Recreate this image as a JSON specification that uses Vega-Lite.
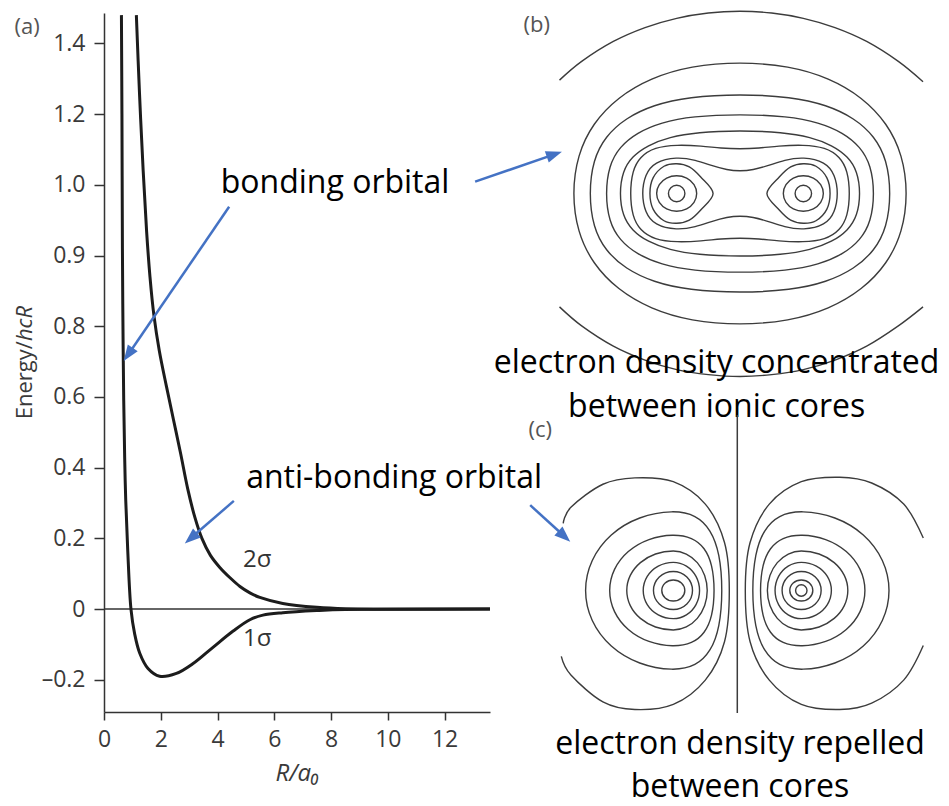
{
  "$schema": "https://vega.github.io/schema/vega-lite/v6.json",
  "width": 386,
  "height": 699,
  "autosize": {"type": "none"},
  "padding": {"left": 104, "top": 13, "right": 459, "bottom": 94},
  "background": "#ffffff",
  "config": {"view": {"stroke": null}, "font": "Open Sans", "axis": {"grid": false}},
  "datasets": {
    "zero": [{"x": 0, "x2": 13.6, "y": 0}],
    "energy": [
      {"orbital": "1σ", "x": 0.614, "y": 1.68}, {"orbital": "1σ", "x": 0.632, "y": 1.40}, {"orbital": "1σ", "x": 0.649, "y": 1.02},
      {"orbital": "1σ", "x": 0.668, "y": 0.80}, {"orbital": "1σ", "x": 0.695, "y": 0.59}, {"orbital": "1σ", "x": 0.728, "y": 0.43},
      {"orbital": "1σ", "x": 0.765, "y": 0.31}, {"orbital": "1σ", "x": 0.836, "y": 0.167}, {"orbital": "1σ", "x": 0.95, "y": 0},
      {"orbital": "1σ", "x": 1.08, "y": -0.07}, {"orbital": "1σ", "x": 1.26, "y": -0.125}, {"orbital": "1σ", "x": 1.55, "y": -0.168},
      {"orbital": "1σ", "x": 1.96, "y": -0.19}, {"orbital": "1σ", "x": 2.55, "y": -0.182}, {"orbital": "1σ", "x": 3.14, "y": -0.154},
      {"orbital": "1σ", "x": 3.84, "y": -0.108}, {"orbital": "1σ", "x": 4.55, "y": -0.062}, {"orbital": "1σ", "x": 5.14, "y": -0.03},
      {"orbital": "1σ", "x": 5.6, "y": -0.017}, {"orbital": "1σ", "x": 6.3, "y": -0.01}, {"orbital": "1σ", "x": 7.5, "y": -0.004},
      {"orbital": "1σ", "x": 8.5, "y": -0.001}, {"orbital": "1σ", "x": 13.6, "y": 0},
      {"orbital": "2σ", "x": 1.14, "y": 1.68}, {"orbital": "2σ", "x": 1.25, "y": 1.46}, {"orbital": "2σ", "x": 1.38, "y": 1.24},
      {"orbital": "2σ", "x": 1.5, "y": 1.07}, {"orbital": "2σ", "x": 1.62, "y": 0.94}, {"orbital": "2σ", "x": 1.76, "y": 0.83},
      {"orbital": "2σ", "x": 1.95, "y": 0.73}, {"orbital": "2σ", "x": 2.2, "y": 0.63}, {"orbital": "2σ", "x": 2.45, "y": 0.535},
      {"orbital": "2σ", "x": 2.7, "y": 0.44}, {"orbital": "2σ", "x": 2.95, "y": 0.34}, {"orbital": "2σ", "x": 3.2, "y": 0.26},
      {"orbital": "2σ", "x": 3.45, "y": 0.2}, {"orbital": "2σ", "x": 3.75, "y": 0.152}, {"orbital": "2σ", "x": 4.08, "y": 0.118},
      {"orbital": "2σ", "x": 4.45, "y": 0.088}, {"orbital": "2σ", "x": 4.79, "y": 0.064}, {"orbital": "2σ", "x": 5.14, "y": 0.046},
      {"orbital": "2σ", "x": 5.49, "y": 0.033}, {"orbital": "2σ", "x": 6.3, "y": 0.016}, {"orbital": "2σ", "x": 7.5, "y": 0.005},
      {"orbital": "2σ", "x": 8.5, "y": 0.001}, {"orbital": "2σ", "x": 13.6, "y": 0}
    ],
    "sigmaLabels": [{"x": 5.4, "y": 0.139, "label": "2σ"}, {"x": 5.4, "y": -0.085, "label": "1σ"}],
    "panelA": [{"x": -2.71, "y": 1.646, "label": "(a)"}],
    "yTitleA": [{"x": -2.797, "y": 0.758, "label": "Energy/"}],
    "yTitleB": [{"x": -2.797, "y": 0.758, "label": "hcR"}],
    "notes": [{"x": 8.14, "y": 1.176, "label": "bonding orbital"}, {"x": 10.22, "y": 0.342, "label": "anti-bonding orbital"}],
    "arrows": [
      {"x": 4.409, "y": 1.138, "x2": 0.854, "y2": 0.72},
      {"x": 13.076, "y": 1.209, "x2": 15.866, "y2": 1.286},
      {"x": 4.575, "y": 0.306, "x2": 3.061, "y2": 0.201},
      {"x": 15.016, "y": 0.294, "x2": 16.219, "y2": 0.206}
    ],
    "tip1": [{"x": 0.695, "y": 0.7016}],
    "tip2": [{"x": 16.134, "y": 1.2937}],
    "tip3": [{"x": 2.847, "y": 0.1859}],
    "tip4": [{"x": 16.427, "y": 0.1904}],
    "bArcs": [
      {"c": "top", "i": 0, "u": -2.85, "v": 1.79}, {"c": "top", "i": 1, "u": -2.5, "v": 2.086}, {"c": "top", "i": 2, "u": -2.0, "v": 2.401},
      {"c": "top", "i": 3, "u": -1.5, "v": 2.62}, {"c": "top", "i": 4, "u": -1.0, "v": 2.766}, {"c": "top", "i": 5, "u": -0.5, "v": 2.85},
      {"c": "top", "i": 6, "u": 0, "v": 2.877}, {"c": "top", "i": 7, "u": 0.5, "v": 2.85}, {"c": "top", "i": 8, "u": 1.0, "v": 2.766},
      {"c": "top", "i": 9, "u": 1.5, "v": 2.62}, {"c": "top", "i": 10, "u": 2.0, "v": 2.401}, {"c": "top", "i": 11, "u": 2.5, "v": 2.086},
      {"c": "top", "i": 12, "u": 2.89, "v": 1.765},
      {"c": "bot", "i": 0, "u": -2.85, "v": -1.79}, {"c": "bot", "i": 1, "u": -2.5, "v": -2.09}, {"c": "bot", "i": 2, "u": -2.0, "v": -2.41},
      {"c": "bot", "i": 3, "u": -1.5, "v": -2.63}, {"c": "bot", "i": 4, "u": -1.0, "v": -2.78}, {"c": "bot", "i": 5, "u": -0.5, "v": -2.86},
      {"c": "bot", "i": 6, "u": 0, "v": -2.89}, {"c": "bot", "i": 7, "u": 0.5, "v": -2.86}, {"c": "bot", "i": 8, "u": 1.0, "v": -2.78},
      {"c": "bot", "i": 9, "u": 1.5, "v": -2.63}, {"c": "bot", "i": 10, "u": 2.0, "v": -2.41}, {"c": "bot", "i": 11, "u": 2.5, "v": -2.09},
      {"c": "bot", "i": 12, "u": 2.89, "v": -1.79}
    ],
    "bSmooth": [
      {"c": "C2", "i": 0, "u": 2.65, "v": 0}, {"c": "C2", "i": 1, "u": 2.568, "v": 0.609}, {"c": "C2", "i": 2, "u": 2.325, "v": 1.108},
      {"c": "C2", "i": 3, "u": 1.934, "v": 1.518}, {"c": "C2", "i": 4, "u": 1.411, "v": 1.825}, {"c": "C2", "i": 5, "u": 0.775, "v": 2.016},
      {"c": "C2", "i": 6, "u": 0, "v": 2.08}, {"c": "C2", "i": 7, "u": -0.775, "v": 2.016}, {"c": "C2", "i": 8, "u": -1.411, "v": 1.825},
      {"c": "C2", "i": 9, "u": -1.934, "v": 1.518}, {"c": "C2", "i": 10, "u": -2.325, "v": 1.108}, {"c": "C2", "i": 11, "u": -2.568, "v": 0.609},
      {"c": "C2", "i": 12, "u": -2.65, "v": 0}, {"c": "C2", "i": 13, "u": -2.568, "v": -0.609}, {"c": "C2", "i": 14, "u": -2.325, "v": -1.108},
      {"c": "C2", "i": 15, "u": -1.934, "v": -1.518}, {"c": "C2", "i": 16, "u": -1.411, "v": -1.825}, {"c": "C2", "i": 17, "u": -0.775, "v": -2.016},
      {"c": "C2", "i": 18, "u": 0, "v": -2.08}, {"c": "C2", "i": 19, "u": 0.775, "v": -2.016}, {"c": "C2", "i": 20, "u": 1.411, "v": -1.825},
      {"c": "C2", "i": 21, "u": 1.934, "v": -1.518}, {"c": "C2", "i": 22, "u": 2.325, "v": -1.108}, {"c": "C2", "i": 23, "u": 2.568, "v": -0.609},

      {"c": "C3", "i": 0, "u": 2.385, "v": 0}, {"c": "C3", "i": 1, "u": 2.32, "v": 0.532}, {"c": "C3", "i": 2, "u": 2.126, "v": 0.902},
      {"c": "C3", "i": 3, "u": 1.808, "v": 1.19}, {"c": "C3", "i": 4, "u": 1.37, "v": 1.399}, {"c": "C3", "i": 5, "u": 0.809, "v": 1.527},
      {"c": "C3", "i": 6, "u": 0, "v": 1.57}, {"c": "C3", "i": 7, "u": -0.809, "v": 1.527}, {"c": "C3", "i": 8, "u": -1.37, "v": 1.399},
      {"c": "C3", "i": 9, "u": -1.808, "v": 1.19}, {"c": "C3", "i": 10, "u": -2.126, "v": 0.902}, {"c": "C3", "i": 11, "u": -2.32, "v": 0.532},
      {"c": "C3", "i": 12, "u": -2.385, "v": 0}, {"c": "C3", "i": 13, "u": -2.32, "v": -0.532}, {"c": "C3", "i": 14, "u": -2.126, "v": -0.902},
      {"c": "C3", "i": 15, "u": -1.808, "v": -1.19}, {"c": "C3", "i": 16, "u": -1.37, "v": -1.399}, {"c": "C3", "i": 17, "u": -0.809, "v": -1.527},
      {"c": "C3", "i": 18, "u": 0, "v": -1.57}, {"c": "C3", "i": 19, "u": 0.809, "v": -1.527}, {"c": "C3", "i": 20, "u": 1.37, "v": -1.399},
      {"c": "C3", "i": 21, "u": 1.808, "v": -1.19}, {"c": "C3", "i": 22, "u": 2.126, "v": -0.902}, {"c": "C3", "i": 23, "u": 2.32, "v": -0.532},

      {"c": "C4", "i": 0, "u": 2.125, "v": 0}, {"c": "C4", "i": 1, "u": 2.069, "v": 0.443}, {"c": "C4", "i": 2, "u": 1.903, "v": 0.735},
      {"c": "C4", "i": 3, "u": 1.628, "v": 0.96}, {"c": "C4", "i": 4, "u": 1.247, "v": 1.122}, {"c": "C4", "i": 5, "u": 0.751, "v": 1.22},
      {"c": "C4", "i": 6, "u": 0, "v": 1.253}, {"c": "C4", "i": 7, "u": -0.751, "v": 1.22}, {"c": "C4", "i": 8, "u": -1.247, "v": 1.122},
      {"c": "C4", "i": 9, "u": -1.628, "v": 0.96}, {"c": "C4", "i": 10, "u": -1.903, "v": 0.735}, {"c": "C4", "i": 11, "u": -2.069, "v": 0.443},
      {"c": "C4", "i": 12, "u": -2.125, "v": 0}, {"c": "C4", "i": 13, "u": -2.069, "v": -0.443}, {"c": "C4", "i": 14, "u": -1.903, "v": -0.735},
      {"c": "C4", "i": 15, "u": -1.628, "v": -0.96}, {"c": "C4", "i": 16, "u": -1.247, "v": -1.122}, {"c": "C4", "i": 17, "u": -0.751, "v": -1.22},
      {"c": "C4", "i": 18, "u": 0, "v": -1.253}, {"c": "C4", "i": 19, "u": 0.751, "v": -1.22}, {"c": "C4", "i": 20, "u": 1.247, "v": -1.122},
      {"c": "C4", "i": 21, "u": 1.628, "v": -0.96}, {"c": "C4", "i": 22, "u": 1.903, "v": -0.735}, {"c": "C4", "i": 23, "u": 2.069, "v": -0.443},

      {"c": "C5", "i": 0, "u": 1.904, "v": 0}, {"c": "C5", "i": 1, "u": 1.854, "v": 0.352}, {"c": "C5", "i": 2, "u": 1.705, "v": 0.584},
      {"c": "C5", "i": 3, "u": 1.458, "v": 0.762}, {"c": "C5", "i": 4, "u": 1.117, "v": 0.891}, {"c": "C5", "i": 5, "u": 0.673, "v": 0.969},
      {"c": "C5", "i": 6, "u": 0, "v": 0.995}, {"c": "C5", "i": 7, "u": -0.673, "v": 0.969}, {"c": "C5", "i": 8, "u": -1.117, "v": 0.891},
      {"c": "C5", "i": 9, "u": -1.458, "v": 0.762}, {"c": "C5", "i": 10, "u": -1.705, "v": 0.584}, {"c": "C5", "i": 11, "u": -1.854, "v": 0.352},
      {"c": "C5", "i": 12, "u": -1.904, "v": 0}, {"c": "C5", "i": 13, "u": -1.854, "v": -0.352}, {"c": "C5", "i": 14, "u": -1.705, "v": -0.584},
      {"c": "C5", "i": 15, "u": -1.458, "v": -0.762}, {"c": "C5", "i": 16, "u": -1.117, "v": -0.891}, {"c": "C5", "i": 17, "u": -0.673, "v": -0.969},
      {"c": "C5", "i": 18, "u": 0, "v": -0.995}, {"c": "C5", "i": 19, "u": 0.673, "v": -0.969}, {"c": "C5", "i": 20, "u": 1.117, "v": -0.891},
      {"c": "C5", "i": 21, "u": 1.458, "v": -0.762}, {"c": "C5", "i": 22, "u": 1.705, "v": -0.584}, {"c": "C5", "i": 23, "u": 1.854, "v": -0.352},

      {"c": "C6", "i": 0, "u": 1.738, "v": 0}, {"c": "C6", "i": 1, "u": 1.7, "v": 0.36}, {"c": "C6", "i": 2, "u": 1.58, "v": 0.58},
      {"c": "C6", "i": 3, "u": 1.35, "v": 0.73}, {"c": "C6", "i": 4, "u": 1.0, "v": 0.77}, {"c": "C6", "i": 5, "u": 0.6, "v": 0.75},
      {"c": "C6", "i": 6, "u": 0.3, "v": 0.715}, {"c": "C6", "i": 7, "u": 0, "v": 0.703}, {"c": "C6", "i": 8, "u": -0.3, "v": 0.715},
      {"c": "C6", "i": 9, "u": -0.6, "v": 0.75}, {"c": "C6", "i": 10, "u": -1.0, "v": 0.77}, {"c": "C6", "i": 11, "u": -1.35, "v": 0.73},
      {"c": "C6", "i": 12, "u": -1.58, "v": 0.58}, {"c": "C6", "i": 13, "u": -1.7, "v": 0.36}, {"c": "C6", "i": 14, "u": -1.738, "v": 0},
      {"c": "C6", "i": 15, "u": -1.7, "v": -0.36}, {"c": "C6", "i": 16, "u": -1.58, "v": -0.58}, {"c": "C6", "i": 17, "u": -1.35, "v": -0.73},
      {"c": "C6", "i": 18, "u": -1.0, "v": -0.77}, {"c": "C6", "i": 19, "u": -0.6, "v": -0.75}, {"c": "C6", "i": 20, "u": -0.3, "v": -0.715},
      {"c": "C6", "i": 21, "u": 0, "v": -0.703}, {"c": "C6", "i": 22, "u": 0.3, "v": -0.715}, {"c": "C6", "i": 23, "u": 0.6, "v": -0.75},
      {"c": "C6", "i": 24, "u": 1.0, "v": -0.77}, {"c": "C6", "i": 25, "u": 1.35, "v": -0.73}, {"c": "C6", "i": 26, "u": 1.58, "v": -0.58},
      {"c": "C6", "i": 27, "u": 1.7, "v": -0.36},

      {"c": "C7", "i": 0, "u": 1.553, "v": 0}, {"c": "C7", "i": 1, "u": 1.5, "v": 0.3}, {"c": "C7", "i": 2, "u": 1.35, "v": 0.5},
      {"c": "C7", "i": 3, "u": 1.0, "v": 0.58}, {"c": "C7", "i": 4, "u": 0.7, "v": 0.53}, {"c": "C7", "i": 5, "u": 0.45, "v": 0.44},
      {"c": "C7", "i": 6, "u": 0.2, "v": 0.37}, {"c": "C7", "i": 7, "u": 0, "v": 0.355}, {"c": "C7", "i": 8, "u": -0.2, "v": 0.37},
      {"c": "C7", "i": 9, "u": -0.45, "v": 0.44}, {"c": "C7", "i": 10, "u": -0.7, "v": 0.53}, {"c": "C7", "i": 11, "u": -1.0, "v": 0.58},
      {"c": "C7", "i": 12, "u": -1.35, "v": 0.5}, {"c": "C7", "i": 13, "u": -1.5, "v": 0.3}, {"c": "C7", "i": 14, "u": -1.553, "v": 0},
      {"c": "C7", "i": 15, "u": -1.5, "v": -0.3}, {"c": "C7", "i": 16, "u": -1.35, "v": -0.5}, {"c": "C7", "i": 17, "u": -1.0, "v": -0.58},
      {"c": "C7", "i": 18, "u": -0.7, "v": -0.53}, {"c": "C7", "i": 19, "u": -0.45, "v": -0.44}, {"c": "C7", "i": 20, "u": -0.2, "v": -0.37},
      {"c": "C7", "i": 21, "u": 0, "v": -0.355}, {"c": "C7", "i": 22, "u": 0.2, "v": -0.37}, {"c": "C7", "i": 23, "u": 0.45, "v": -0.44},
      {"c": "C7", "i": 24, "u": 0.7, "v": -0.53}, {"c": "C7", "i": 25, "u": 1.0, "v": -0.58}, {"c": "C7", "i": 26, "u": 1.35, "v": -0.5},
      {"c": "C7", "i": 27, "u": 1.5, "v": -0.3}
    ],
    "bRound": [
      {"c": "TL", "i": 0, "u": -1.422, "v": 0}, {"c": "TL", "i": 1, "u": -1.37, "v": 0.25}, {"c": "TL", "i": 2, "u": -1.2, "v": 0.43},
      {"c": "TL", "i": 3, "u": -1.0, "v": 0.47}, {"c": "TL", "i": 4, "u": -0.8, "v": 0.42}, {"c": "TL", "i": 5, "u": -0.62, "v": 0.26},
      {"c": "TL", "i": 6, "u": -0.425, "v": 0}, {"c": "TL", "i": 7, "u": -0.62, "v": -0.26}, {"c": "TL", "i": 8, "u": -0.8, "v": -0.42},
      {"c": "TL", "i": 9, "u": -1.0, "v": -0.47}, {"c": "TL", "i": 10, "u": -1.2, "v": -0.43}, {"c": "TL", "i": 11, "u": -1.37, "v": -0.25},
      {"c": "TR", "i": 0, "u": 1.422, "v": 0}, {"c": "TR", "i": 1, "u": 1.37, "v": 0.25}, {"c": "TR", "i": 2, "u": 1.2, "v": 0.43},
      {"c": "TR", "i": 3, "u": 1.0, "v": 0.47}, {"c": "TR", "i": 4, "u": 0.8, "v": 0.42}, {"c": "TR", "i": 5, "u": 0.62, "v": 0.26},
      {"c": "TR", "i": 6, "u": 0.425, "v": 0}, {"c": "TR", "i": 7, "u": 0.62, "v": -0.26}, {"c": "TR", "i": 8, "u": 0.8, "v": -0.42},
      {"c": "TR", "i": 9, "u": 1.0, "v": -0.47}, {"c": "TR", "i": 10, "u": 1.2, "v": -0.43}, {"c": "TR", "i": 11, "u": 1.37, "v": -0.25},
      {"c": "OL", "i": 0, "u": -0.684, "v": 0}, {"c": "OL", "i": 1, "u": -0.726, "v": 0.14}, {"c": "OL", "i": 2, "u": -0.842, "v": 0.242},
      {"c": "OL", "i": 3, "u": -1.0, "v": 0.28}, {"c": "OL", "i": 4, "u": -1.158, "v": 0.242}, {"c": "OL", "i": 5, "u": -1.274, "v": 0.14},
      {"c": "OL", "i": 6, "u": -1.316, "v": 0}, {"c": "OL", "i": 7, "u": -1.274, "v": -0.14}, {"c": "OL", "i": 8, "u": -1.158, "v": -0.242},
      {"c": "OL", "i": 9, "u": -1.0, "v": -0.28}, {"c": "OL", "i": 10, "u": -0.842, "v": -0.242}, {"c": "OL", "i": 11, "u": -0.726, "v": -0.14},
      {"c": "OR", "i": 0, "u": 1.316, "v": 0}, {"c": "OR", "i": 1, "u": 1.274, "v": 0.14}, {"c": "OR", "i": 2, "u": 1.158, "v": 0.242},
      {"c": "OR", "i": 3, "u": 1.0, "v": 0.28}, {"c": "OR", "i": 4, "u": 0.842, "v": 0.242}, {"c": "OR", "i": 5, "u": 0.726, "v": 0.14},
      {"c": "OR", "i": 6, "u": 0.684, "v": 0}, {"c": "OR", "i": 7, "u": 0.726, "v": -0.14}, {"c": "OR", "i": 8, "u": 0.842, "v": -0.242},
      {"c": "OR", "i": 9, "u": 1.0, "v": -0.28}, {"c": "OR", "i": 10, "u": 1.158, "v": -0.242}, {"c": "OR", "i": 11, "u": 1.274, "v": -0.14},
      {"c": "NL", "i": 0, "u": -0.87, "v": 0}, {"c": "NL", "i": 1, "u": -0.908, "v": 0.092}, {"c": "NL", "i": 2, "u": -1.0, "v": 0.13},
      {"c": "NL", "i": 3, "u": -1.092, "v": 0.092}, {"c": "NL", "i": 4, "u": -1.13, "v": 0}, {"c": "NL", "i": 5, "u": -1.092, "v": -0.092},
      {"c": "NL", "i": 6, "u": -1.0, "v": -0.13}, {"c": "NL", "i": 7, "u": -0.908, "v": -0.092},
      {"c": "NR", "i": 0, "u": 1.13, "v": 0}, {"c": "NR", "i": 1, "u": 1.092, "v": 0.092}, {"c": "NR", "i": 2, "u": 1.0, "v": 0.13},
      {"c": "NR", "i": 3, "u": 0.908, "v": 0.092}, {"c": "NR", "i": 4, "u": 0.87, "v": 0}, {"c": "NR", "i": 5, "u": 0.908, "v": -0.092},
      {"c": "NR", "i": 6, "u": 1.0, "v": -0.13}, {"c": "NR", "i": 7, "u": 1.092, "v": -0.092}
    ],
    "bText": [{"u": -0.37, "v": -2.84, "label": "electron density concentrated"}, {"u": -0.368, "v": -3.526, "label": "between ionic cores"}],
    "bTag": [{"u": -3.21, "v": 2.66, "label": "(b)"}],
    "cRound": [
      {"c": "K1R", "i": 0, "u": 1.089, "v": 0}, {"c": "K1R", "i": 1, "u": 1.063, "v": 0.063}, {"c": "K1R", "i": 2, "u": 1.0, "v": 0.089},
      {"c": "K1R", "i": 3, "u": 0.937, "v": 0.063}, {"c": "K1R", "i": 4, "u": 0.911, "v": 0}, {"c": "K1R", "i": 5, "u": 0.937, "v": -0.063},
      {"c": "K1R", "i": 6, "u": 1.0, "v": -0.089}, {"c": "K1R", "i": 7, "u": 1.063, "v": -0.063},

      {"c": "K2R", "i": 0, "u": 1.18, "v": 0}, {"c": "K2R", "i": 1, "u": 1.127, "v": 0.116}, {"c": "K2R", "i": 2, "u": 1.0, "v": 0.164},
      {"c": "K2R", "i": 3, "u": 0.873, "v": 0.116}, {"c": "K2R", "i": 4, "u": 0.82, "v": 0}, {"c": "K2R", "i": 5, "u": 0.873, "v": -0.116},
      {"c": "K2R", "i": 6, "u": 1.0, "v": -0.164}, {"c": "K2R", "i": 7, "u": 1.127, "v": -0.116},
      {"c": "K2L", "i": 0, "u": -1.18, "v": 0}, {"c": "K2L", "i": 1, "u": -1.127, "v": 0.116}, {"c": "K2L", "i": 2, "u": -1.0, "v": 0.164},
      {"c": "K2L", "i": 3, "u": -0.873, "v": 0.116}, {"c": "K2L", "i": 4, "u": -0.82, "v": 0}, {"c": "K2L", "i": 5, "u": -0.873, "v": -0.116},
      {"c": "K2L", "i": 6, "u": -1.0, "v": -0.164}, {"c": "K2L", "i": 7, "u": -1.127, "v": -0.116},

      {"c": "K3R", "i": 0, "u": 1.31, "v": 0}, {"c": "K3R", "i": 1, "u": 1.219, "v": 0.21}, {"c": "K3R", "i": 2, "u": 1.0, "v": 0.297},
      {"c": "K3R", "i": 3, "u": 0.788, "v": 0.21}, {"c": "K3R", "i": 4, "u": 0.7, "v": 0}, {"c": "K3R", "i": 5, "u": 0.788, "v": -0.21},
      {"c": "K3R", "i": 6, "u": 1.0, "v": -0.297}, {"c": "K3R", "i": 7, "u": 1.219, "v": -0.21},
      {"c": "K3L", "i": 0, "u": -1.31, "v": 0}, {"c": "K3L", "i": 1, "u": -1.219, "v": 0.21}, {"c": "K3L", "i": 2, "u": -1.0, "v": 0.297},
      {"c": "K3L", "i": 3, "u": -0.788, "v": 0.21}, {"c": "K3L", "i": 4, "u": -0.7, "v": 0}, {"c": "K3L", "i": 5, "u": -0.788, "v": -0.21},
      {"c": "K3L", "i": 6, "u": -1.0, "v": -0.297}, {"c": "K3L", "i": 7, "u": -1.219, "v": -0.21},

      {"c": "K4R", "i": 0, "u": 1.47, "v": 0}, {"c": "K4R", "i": 1, "u": 1.407, "v": 0.22}, {"c": "K4R", "i": 2, "u": 1.235, "v": 0.381},
      {"c": "K4R", "i": 3, "u": 1.0, "v": 0.44}, {"c": "K4R", "i": 4, "u": 0.795, "v": 0.381}, {"c": "K4R", "i": 5, "u": 0.645, "v": 0.22},
      {"c": "K4R", "i": 6, "u": 0.59, "v": 0}, {"c": "K4R", "i": 7, "u": 0.645, "v": -0.22}, {"c": "K4R", "i": 8, "u": 0.795, "v": -0.381},
      {"c": "K4R", "i": 9, "u": 1.0, "v": -0.44}, {"c": "K4R", "i": 10, "u": 1.235, "v": -0.381}, {"c": "K4R", "i": 11, "u": 1.407, "v": -0.22},
      {"c": "K4L", "i": 0, "u": -1.47, "v": 0}, {"c": "K4L", "i": 1, "u": -1.407, "v": 0.22}, {"c": "K4L", "i": 2, "u": -1.235, "v": 0.381},
      {"c": "K4L", "i": 3, "u": -1.0, "v": 0.44}, {"c": "K4L", "i": 4, "u": -0.795, "v": 0.381}, {"c": "K4L", "i": 5, "u": -0.645, "v": 0.22},
      {"c": "K4L", "i": 6, "u": -0.59, "v": 0}, {"c": "K4L", "i": 7, "u": -0.645, "v": -0.22}, {"c": "K4L", "i": 8, "u": -0.795, "v": -0.381},
      {"c": "K4L", "i": 9, "u": -1.0, "v": -0.44}, {"c": "K4L", "i": 10, "u": -1.235, "v": -0.381}, {"c": "K4L", "i": 11, "u": -1.407, "v": -0.22},

      {"c": "K5R", "i": 0, "u": 1.727, "v": 0}, {"c": "K5R", "i": 1, "u": 1.672, "v": 0.236}, {"c": "K5R", "i": 2, "u": 1.514, "v": 0.436},
      {"c": "K5R", "i": 3, "u": 1.278, "v": 0.57}, {"c": "K5R", "i": 4, "u": 1.0, "v": 0.617}, {"c": "K5R", "i": 5, "u": 0.797, "v": 0.57},
      {"c": "K5R", "i": 6, "u": 0.625, "v": 0.436}, {"c": "K5R", "i": 7, "u": 0.51, "v": 0.236}, {"c": "K5R", "i": 8, "u": 0.47, "v": 0},
      {"c": "K5R", "i": 9, "u": 0.51, "v": -0.236}, {"c": "K5R", "i": 10, "u": 0.625, "v": -0.436}, {"c": "K5R", "i": 11, "u": 0.797, "v": -0.57},
      {"c": "K5R", "i": 12, "u": 1.0, "v": -0.617}, {"c": "K5R", "i": 13, "u": 1.278, "v": -0.57}, {"c": "K5R", "i": 14, "u": 1.514, "v": -0.436},
      {"c": "K5R", "i": 15, "u": 1.672, "v": -0.236},
      {"c": "K5L", "i": 0, "u": -1.727, "v": 0}, {"c": "K5L", "i": 1, "u": -1.672, "v": 0.236}, {"c": "K5L", "i": 2, "u": -1.514, "v": 0.436},
      {"c": "K5L", "i": 3, "u": -1.278, "v": 0.57}, {"c": "K5L", "i": 4, "u": -1.0, "v": 0.617}, {"c": "K5L", "i": 5, "u": -0.797, "v": 0.57},
      {"c": "K5L", "i": 6, "u": -0.625, "v": 0.436}, {"c": "K5L", "i": 7, "u": -0.51, "v": 0.236}, {"c": "K5L", "i": 8, "u": -0.47, "v": 0},
      {"c": "K5L", "i": 9, "u": -0.51, "v": -0.236}, {"c": "K5L", "i": 10, "u": -0.625, "v": -0.436}, {"c": "K5L", "i": 11, "u": -0.797, "v": -0.57},
      {"c": "K5L", "i": 12, "u": -1.0, "v": -0.617}, {"c": "K5L", "i": 13, "u": -1.278, "v": -0.57}, {"c": "K5L", "i": 14, "u": -1.514, "v": -0.436},
      {"c": "K5L", "i": 15, "u": -1.672, "v": -0.236}
    ],
    "cSmooth": [
      {"c": "K6R", "i": 0, "u": 2.02, "v": 0}, {"c": "K6R", "i": 1, "u": 1.942, "v": 0.338}, {"c": "K6R", "i": 2, "u": 1.721, "v": 0.624},
      {"c": "K6R", "i": 3, "u": 1.39, "v": 0.816}, {"c": "K6R", "i": 4, "u": 1.0, "v": 0.883}, {"c": "K6R", "i": 5, "u": 0.699, "v": 0.829},
      {"c": "K6R", "i": 6, "u": 0.507, "v": 0.669}, {"c": "K6R", "i": 7, "u": 0.39, "v": 0.41}, {"c": "K6R", "i": 8, "u": 0.35, "v": 0},
      {"c": "K6R", "i": 9, "u": 0.39, "v": -0.41}, {"c": "K6R", "i": 10, "u": 0.507, "v": -0.669}, {"c": "K6R", "i": 11, "u": 0.699, "v": -0.829},
      {"c": "K6R", "i": 12, "u": 1.0, "v": -0.883}, {"c": "K6R", "i": 13, "u": 1.39, "v": -0.816}, {"c": "K6R", "i": 14, "u": 1.721, "v": -0.624},
      {"c": "K6R", "i": 15, "u": 1.942, "v": -0.338},
      {"c": "K6L", "i": 0, "u": -2.02, "v": 0}, {"c": "K6L", "i": 1, "u": -1.942, "v": 0.338}, {"c": "K6L", "i": 2, "u": -1.721, "v": 0.624},
      {"c": "K6L", "i": 3, "u": -1.39, "v": 0.816}, {"c": "K6L", "i": 4, "u": -1.0, "v": 0.883}, {"c": "K6L", "i": 5, "u": -0.699, "v": 0.829},
      {"c": "K6L", "i": 6, "u": -0.507, "v": 0.669}, {"c": "K6L", "i": 7, "u": -0.39, "v": 0.41}, {"c": "K6L", "i": 8, "u": -0.35, "v": 0},
      {"c": "K6L", "i": 9, "u": -0.39, "v": -0.41}, {"c": "K6L", "i": 10, "u": -0.507, "v": -0.669}, {"c": "K6L", "i": 11, "u": -0.699, "v": -0.829},
      {"c": "K6L", "i": 12, "u": -1.0, "v": -0.883}, {"c": "K6L", "i": 13, "u": -1.39, "v": -0.816}, {"c": "K6L", "i": 14, "u": -1.721, "v": -0.624},
      {"c": "K6L", "i": 15, "u": -1.942, "v": -0.338},

      {"c": "K7R", "i": 0, "u": 2.406, "v": 0}, {"c": "K7R", "i": 1, "u": 2.299, "v": 0.481}, {"c": "K7R", "i": 2, "u": 1.994, "v": 0.89},
      {"c": "K7R", "i": 3, "u": 1.538, "v": 1.162}, {"c": "K7R", "i": 4, "u": 1.0, "v": 1.258}, {"c": "K7R", "i": 5, "u": 0.641, "v": 1.181},
      {"c": "K7R", "i": 6, "u": 0.414, "v": 0.953}, {"c": "K7R", "i": 7, "u": 0.274, "v": 0.583}, {"c": "K7R", "i": 8, "u": 0.227, "v": 0},
      {"c": "K7R", "i": 9, "u": 0.274, "v": -0.583}, {"c": "K7R", "i": 10, "u": 0.414, "v": -0.953}, {"c": "K7R", "i": 11, "u": 0.641, "v": -1.181},
      {"c": "K7R", "i": 12, "u": 1.0, "v": -1.258}, {"c": "K7R", "i": 13, "u": 1.538, "v": -1.162}, {"c": "K7R", "i": 14, "u": 1.994, "v": -0.89},
      {"c": "K7R", "i": 15, "u": 2.299, "v": -0.481},
      {"c": "K7L", "i": 0, "u": -2.406, "v": 0}, {"c": "K7L", "i": 1, "u": -2.299, "v": 0.481}, {"c": "K7L", "i": 2, "u": -1.994, "v": 0.89},
      {"c": "K7L", "i": 3, "u": -1.538, "v": 1.162}, {"c": "K7L", "i": 4, "u": -1.0, "v": 1.258}, {"c": "K7L", "i": 5, "u": -0.641, "v": 1.181},
      {"c": "K7L", "i": 6, "u": -0.414, "v": 0.953}, {"c": "K7L", "i": 7, "u": -0.274, "v": 0.583}, {"c": "K7L", "i": 8, "u": -0.227, "v": 0},
      {"c": "K7L", "i": 9, "u": -0.274, "v": -0.583}, {"c": "K7L", "i": 10, "u": -0.414, "v": -0.953}, {"c": "K7L", "i": 11, "u": -0.641, "v": -1.181},
      {"c": "K7L", "i": 12, "u": -1.0, "v": -1.258}, {"c": "K7L", "i": 13, "u": -1.538, "v": -1.162}, {"c": "K7L", "i": 14, "u": -1.994, "v": -0.89},
      {"c": "K7L", "i": 15, "u": -2.299, "v": -0.481}
    ],
    "cArcs": [
      {"c": "K8R", "i": 0, "u": 2.906, "v": 0.82}, {"c": "K8R", "i": 1, "u": 2.6, "v": 1.35}, {"c": "K8R", "i": 2, "u": 2.1, "v": 1.68},
      {"c": "K8R", "i": 3, "u": 1.6, "v": 1.77}, {"c": "K8R", "i": 4, "u": 1.0, "v": 1.7}, {"c": "K8R", "i": 5, "u": 0.5, "v": 1.35},
      {"c": "K8R", "i": 6, "u": 0.2, "v": 0.75}, {"c": "K8R", "i": 7, "u": 0.125, "v": 0}, {"c": "K8R", "i": 8, "u": 0.2, "v": -0.8},
      {"c": "K8R", "i": 9, "u": 0.5, "v": -1.4}, {"c": "K8R", "i": 10, "u": 1.0, "v": -1.78}, {"c": "K8R", "i": 11, "u": 1.6, "v": -1.86},
      {"c": "K8R", "i": 12, "u": 2.1, "v": -1.76}, {"c": "K8R", "i": 13, "u": 2.6, "v": -1.4}, {"c": "K8R", "i": 14, "u": 2.906, "v": -0.86},
      {"c": "K8L", "i": 0, "u": -2.72, "v": 1.05}, {"c": "K8L", "i": 1, "u": -2.6, "v": 1.3}, {"c": "K8L", "i": 2, "u": -2.1, "v": 1.66},
      {"c": "K8L", "i": 3, "u": -1.6, "v": 1.76}, {"c": "K8L", "i": 4, "u": -1.0, "v": 1.7}, {"c": "K8L", "i": 5, "u": -0.5, "v": 1.35},
      {"c": "K8L", "i": 6, "u": -0.2, "v": 0.75}, {"c": "K8L", "i": 7, "u": -0.125, "v": 0}, {"c": "K8L", "i": 8, "u": -0.2, "v": -0.8},
      {"c": "K8L", "i": 9, "u": -0.5, "v": -1.4}, {"c": "K8L", "i": 10, "u": -1.0, "v": -1.78}, {"c": "K8L", "i": 11, "u": -1.6, "v": -1.86},
      {"c": "K8L", "i": 12, "u": -2.1, "v": -1.74}, {"c": "K8L", "i": 13, "u": -2.6, "v": -1.32}, {"c": "K8L", "i": 14, "u": -2.75, "v": -1.03}
    ],
    "node": [{"u": 0, "v": -1.914, "v2": 2.742}],
    "cText": [{"u": 0.042, "v": -2.555, "label": "electron density repelled"}, {"u": 0.042, "v": -3.227, "label": "between cores"}],
    "cTag": [{"u": -3.08, "v": 2.51, "label": "(c)"}]
  },
  "layer": [
    {
      "layer": [
        {
          "data": {"name": "zero"},
          "mark": {"type": "rule", "color": "#333333", "strokeWidth": 1.5},
          "encoding": {
            "x": {"field": "x", "type": "quantitative",
              "scale": {"domain": [0, 13.6], "nice": false, "zero": false},
              "axis": {"values": [0, 2, 4, 6, 8, 10, 12], "title": "R/a₀", "tickSize": 8, "tickWidth": 1.5, "tickColor": "#333333",
                "domainColor": "#333333", "domainWidth": 1.5, "labelFont": "Open Sans", "labelFontSize": 23, "labelColor": "#3a3a3a",
                "labelPadding": 8, "titleFont": "Open Sans", "titleFontSize": 24, "titleFontStyle": "italic", "titleFontWeight": "normal",
                "titleColor": "#3a3a3a", "titlePadding": 10, "labelFlush": false}},
            "x2": {"field": "x2"},
            "y": {"field": "y", "type": "quantitative",
              "scale": {"domain": [-0.291, 1.686], "nice": false, "zero": false},
              "axis": {"values": [-0.2, 0, 0.2, 0.4, 0.6, 0.8, 1.0, 1.2, 1.4, 1.6], "title": null, "tickSize": 10, "tickWidth": 1.5,
                "tickColor": "#333333", "domainColor": "#333333", "domainWidth": 1.5, "labelFont": "Open Sans", "labelFontSize": 23,
                "labelColor": "#3a3a3a", "labelPadding": 9, "labelFlush": false,
                "labelExpr": "datum.value > 1.5 ? '1.4' : datum.value > 1.3 ? '1.2' : datum.value > 1.1 ? '1.0' : datum.value > 0.9 ? '0.9' : datum.value < -0.1 ? '–0.2' : abs(datum.value) < 0.01 ? '0' : format(datum.value, '.1f')"}}
          }
        },
        {
          "data": {"name": "energy"},
          "mark": {"type": "line", "interpolate": "catmull-rom", "strokeWidth": 3, "color": "#1c1c1c"},
          "encoding": {
            "x": {"field": "x", "type": "quantitative"},
            "y": {"field": "y", "type": "quantitative"},
            "detail": {"field": "orbital"}
          }
        },
        {
          "data": {"name": "yTitleA"},
          "mark": {"type": "text", "font": "Open Sans", "fontSize": 22, "color": "#3a3a3a", "angle": 270, "align": "right", "baseline": "middle"},
          "encoding": {"x": {"field": "x", "type": "quantitative"}, "y": {"field": "y", "type": "quantitative"}, "text": {"field": "label"}}
        },
        {
          "data": {"name": "yTitleB"},
          "mark": {"type": "text", "font": "Open Sans", "fontSize": 22, "fontStyle": "italic", "color": "#3a3a3a", "angle": 270, "align": "left", "baseline": "middle"},
          "encoding": {"x": {"field": "x", "type": "quantitative"}, "y": {"field": "y", "type": "quantitative"}, "text": {"field": "label"}}
        },
        {
          "data": {"name": "sigmaLabels"},
          "mark": {"type": "text", "font": "Open Sans", "fontSize": 24, "color": "#333333", "align": "center", "baseline": "middle"},
          "encoding": {"x": {"field": "x", "type": "quantitative"}, "y": {"field": "y", "type": "quantitative"}, "text": {"field": "label"}}
        },
        {
          "data": {"name": "panelA"},
          "mark": {"type": "text", "font": "Open Sans", "fontSize": 22, "color": "#555555", "align": "center", "baseline": "middle"},
          "encoding": {"x": {"field": "x", "type": "quantitative"}, "y": {"field": "y", "type": "quantitative"}, "text": {"field": "label"}}
        },
        {
          "data": {"name": "arrows"},
          "mark": {"type": "rule", "color": "#4472C4", "strokeWidth": 2.5},
          "encoding": {
            "x": {"field": "x", "type": "quantitative"}, "y": {"field": "y", "type": "quantitative"},
            "x2": {"field": "x2"}, "y2": {"field": "y2"}
          }
        },
        {
          "data": {"name": "tip1"},
          "mark": {"type": "point", "shape": "M0,0L-2,-0.75L-2,0.75Z", "filled": true, "opacity": 1, "size": 256, "color": "#4472C4", "strokeWidth": 0, "angle": 124.3},
          "encoding": {"x": {"field": "x", "type": "quantitative"}, "y": {"field": "y", "type": "quantitative"}}
        },
        {
          "data": {"name": "tip2"},
          "mark": {"type": "point", "shape": "M0,0L-2,-0.75L-2,0.75Z", "filled": true, "opacity": 1, "size": 256, "color": "#4472C4", "strokeWidth": 0, "angle": -19.1},
          "encoding": {"x": {"field": "x", "type": "quantitative"}, "y": {"field": "y", "type": "quantitative"}}
        },
        {
          "data": {"name": "tip3"},
          "mark": {"type": "point", "shape": "M0,0L-2,-0.75L-2,0.75Z", "filled": true, "opacity": 1, "size": 256, "color": "#4472C4", "strokeWidth": 0, "angle": 139.2},
          "encoding": {"x": {"field": "x", "type": "quantitative"}, "y": {"field": "y", "type": "quantitative"}}
        },
        {
          "data": {"name": "tip4"},
          "mark": {"type": "point", "shape": "M0,0L-2,-0.75L-2,0.75Z", "filled": true, "opacity": 1, "size": 256, "color": "#4472C4", "strokeWidth": 0, "angle": 42.5},
          "encoding": {"x": {"field": "x", "type": "quantitative"}, "y": {"field": "y", "type": "quantitative"}}
        },
        {
          "data": {"name": "notes"},
          "mark": {"type": "text", "font": "Open Sans", "fontSize": 32, "color": "#000000", "align": "center", "baseline": "alphabetic"},
          "encoding": {"x": {"field": "x", "type": "quantitative"}, "y": {"field": "y", "type": "quantitative"}, "text": {"field": "label"}}
        }
      ]
    },
    {
      "layer": [
        {
          "data": {"name": "bSmooth"},
          "mark": {"type": "line", "interpolate": "basis-closed", "strokeWidth": 1.4, "color": "#3c3c3c"},
          "encoding": {
            "x": {"field": "u", "type": "quantitative", "axis": null, "scale": {"domain": [-3, 3], "range": [446, 826], "nice": false, "zero": false}},
            "y": {"field": "v", "type": "quantitative", "axis": null, "scale": {"domain": [-3, 3], "range": [370.5, -9.5], "nice": false, "zero": false}},
            "detail": {"field": "c"},
            "order": {"field": "i", "type": "quantitative"}
          }
        },
        {
          "data": {"name": "bRound"},
          "mark": {"type": "line", "interpolate": "cardinal-closed", "strokeWidth": 1.4, "color": "#3c3c3c"},
          "encoding": {
            "x": {"field": "u", "type": "quantitative"},
            "y": {"field": "v", "type": "quantitative"},
            "detail": {"field": "c"},
            "order": {"field": "i", "type": "quantitative"}
          }
        },
        {
          "data": {"name": "bArcs"},
          "mark": {"type": "line", "interpolate": "cardinal", "strokeWidth": 1.4, "color": "#3c3c3c"},
          "encoding": {
            "x": {"field": "u", "type": "quantitative"},
            "y": {"field": "v", "type": "quantitative"},
            "detail": {"field": "c"},
            "order": {"field": "i", "type": "quantitative"}
          }
        },
        {
          "data": {"name": "bText"},
          "mark": {"type": "text", "font": "Open Sans", "fontSize": 32, "color": "#000000", "align": "center", "baseline": "alphabetic"},
          "encoding": {"x": {"field": "u", "type": "quantitative"}, "y": {"field": "v", "type": "quantitative"}, "text": {"field": "label"}}
        },
        {
          "data": {"name": "bTag"},
          "mark": {"type": "text", "font": "Open Sans", "fontSize": 22, "color": "#555555", "align": "center", "baseline": "middle"},
          "encoding": {"x": {"field": "u", "type": "quantitative"}, "y": {"field": "v", "type": "quantitative"}, "text": {"field": "label"}}
        }
      ]
    },
    {
      "layer": [
        {
          "data": {"name": "cRound"},
          "mark": {"type": "line", "interpolate": "cardinal-closed", "strokeWidth": 1.4, "color": "#3c3c3c"},
          "encoding": {
            "x": {"field": "u", "type": "quantitative", "axis": null, "scale": {"domain": [-3, 3], "range": [441.3, 825.3], "nice": false, "zero": false}},
            "y": {"field": "v", "type": "quantitative", "axis": null, "scale": {"domain": [-3, 3], "range": [769.5, 385.5], "nice": false, "zero": false}},
            "detail": {"field": "c"},
            "order": {"field": "i", "type": "quantitative"}
          }
        },
        {
          "data": {"name": "cSmooth"},
          "mark": {"type": "line", "interpolate": "basis-closed", "strokeWidth": 1.4, "color": "#3c3c3c"},
          "encoding": {
            "x": {"field": "u", "type": "quantitative"},
            "y": {"field": "v", "type": "quantitative"},
            "detail": {"field": "c"},
            "order": {"field": "i", "type": "quantitative"}
          }
        },
        {
          "data": {"name": "cArcs"},
          "mark": {"type": "line", "interpolate": "cardinal", "strokeWidth": 1.4, "color": "#3c3c3c"},
          "encoding": {
            "x": {"field": "u", "type": "quantitative"},
            "y": {"field": "v", "type": "quantitative"},
            "detail": {"field": "c"},
            "order": {"field": "i", "type": "quantitative"}
          }
        },
        {
          "data": {"name": "node"},
          "mark": {"type": "rule", "strokeWidth": 1.5, "color": "#3c3c3c"},
          "encoding": {
            "x": {"field": "u", "type": "quantitative"},
            "y": {"field": "v", "type": "quantitative"},
            "y2": {"field": "v2"}
          }
        },
        {
          "data": {"name": "cText"},
          "mark": {"type": "text", "font": "Open Sans", "fontSize": 32, "color": "#000000", "align": "center", "baseline": "alphabetic"},
          "encoding": {"x": {"field": "u", "type": "quantitative"}, "y": {"field": "v", "type": "quantitative"}, "text": {"field": "label"}}
        },
        {
          "data": {"name": "cTag"},
          "mark": {"type": "text", "font": "Open Sans", "fontSize": 22, "color": "#555555", "align": "center", "baseline": "middle"},
          "encoding": {"x": {"field": "u", "type": "quantitative"}, "y": {"field": "v", "type": "quantitative"}, "text": {"field": "label"}}
        }
      ]
    }
  ],
  "resolve": {"scale": {"x": "independent", "y": "independent"}}
}
